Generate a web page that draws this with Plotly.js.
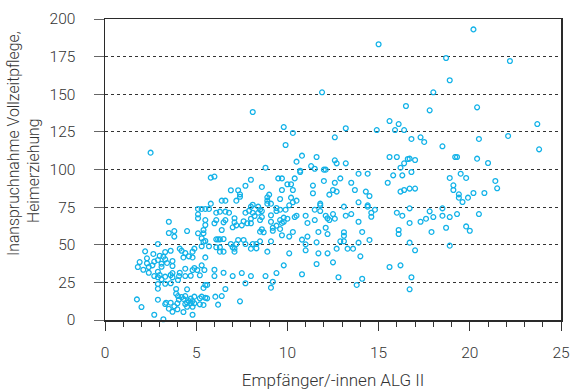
<!DOCTYPE html>
<html>
<head>
<meta charset="utf-8">
<script src="https://cdn.plot.ly/plotly-3.0.1.min.js"></script>
<style>html,body{margin:0;padding:0;background:#fff;}</style>
</head>
<body>
<div id="chart" style="width:571px;height:390px;"></div>
<script>
// Empfänger/-innen ALG II (x) vs. Inanspruchnahme Vollzeitpflege, Heimerziehung (y)
const xTitle = 'Empfänger/-innen ALG II';
const yTitleLines = ['Inanspruchnahme Vollzeitpflege,', 'Heimerziehung'];
const xTicks = [0, 5, 10, 15, 20, 25];
const yTicks = [0, 25, 50, 75, 100, 125, 150, 175, 200];

const xVals = [
8.1,2.5,
15.0,11.9,16.5,15.6,16.1,9.8,13.2,14.9,15.9,16.4,10.3,12.6,9.9,10.8,11.6,15.6,16.0,16.6,10.5,12.6,12.7,13.2,16.4,11.3,11.5,16.2,8.8,12.0,12.1,10.7,
20.2,18.7,22.2,18.9,18.0,17.8,20.4,23.7,16.8,17.3,17.5,20.5,22.1,18.5,23.8,19.2,19.3,16.7,17.0,20.4,21.0,
16.8,18.9,19.5,19.8,21.4,19.1,19.1,21.5,16.7,17.0,19.4,19.4,19.9,20.2,20.8,19.6,16.7,17.8,18.5,19.3,20.5,18.0,18.5,18.9,17.6,17.3,16.7,19.8,20.0,18.7,17.9,16.7,18.9,17.0,16.8,16.7,
10.7,13.9,14.4,15.8,16.3,12.9,9.5,9.7,10.4,12.0,12.6,13.5,15.5,10.0,10.2,8.6,11.4,9.7,10.3,12.5,12.7,13.7,14.3,16.2,16.4,11.4,12.3,9.0,14.5,8.9,8.9,8.9,10.2,9.6,10.5,9.1,13.9,10.3,10.1,11.8,11.8,13.1,14.4,14.4,8.4,8.5,8.6,8.4,9.4,9.4,9.6,9.9,9.8,9.1,11.5,11.8,14.8,13.5,13.2,14.6,14.6,16.0,16.3,10.5,10.4,11.0,12.1,12.2,12.3,12.5,12.6,9.6,9.8,10.0,9.1,8.6,8.5,11.5,11.1,13.9,12.1,12.2,9.7,9.4,9.2,9.2,8.6,8.5,8.7,9.6,10.3,11.7,14.1,16.1,16.1,9.7,10.1,11.1,13.1,13.1,13.1,12.9,13.9,14.5,8.5,9.1,10.8,11.0,11.0,11.6,8.3,8.9,12.7,13.3,13.6,11.7,12.2,10.1,14.0,12.5,11.6,9.8,15.6,16.2,9.4,8.8,10.8,12.8,14.1,9.2,9.1,13.8,
5.8,6.0,8.0,7.7,6.9,7.3,7.4,7.4,6.6,6.4,7.2,5.8,8.1,8.0,5.1,5.3,5.5,5.7,5.1,5.1,6.1,6.3,6.6,6.8,7.9,7.7,8.1,5.5,5.5,6.1,6.0,6.6,6.5,7.1,7.1,7.2,7.6,7.5,7.8,8.0,8.0,8.2,7.0,3.5,3.8,3.8,4.5,5.1,5.4,5.3,5.4,6.4,6.5,6.1,6.2,6.3,5.5,5.4,7.3,7.6,7.7,8.1,8.3,8.0,6.9,7.0,7.2,7.1,7.1,6.3,6.1,6.3,6.5,5.3,5.7,4.9,4.8,4.6,4.2,4.1,5.5,5.3,4.9,4.3,4.4,4.8,2.9,2.2,1.9,1.8,2.3,2.3,2.4,2.65,2.7,2.6,2.1,2.4,3.0,2.9,3.2,3.3,3.6,3.3,3.4,3.1,3.1,3.7,3.7,2.9,2.7,2.9,3.0,3.3,3.1,2.9,2.9,3.7,4.1,4.4,4.7,3.7,3.6,3.3,3.9,3.9,4.5,4.4,5.4,5.5,5.6,1.75,2.0,2.9,3.35,3.3,3.6,3.5,3.7,4.0,4.05,4.2,4.3,3.97,3.8,3.97,4.4,4.5,4.5,4.6,4.7,4.7,4.8,4.8,4.9,4.9,4.3,4.8,2.7,3.2,5.2,5.3,5.5,5.2,5.4,5.6,6.05,6.2,6.6,6.4,7.4,7.7,8.0,7.5,6.5,7.0,6.0,6.0,5.45,4.8,4.06,3.6,4.0,3.5,4.4,5.06,5.2
];
const yVals = [
138.2,111.2,
183.2,151.3,142.2,132.2,130.2,128.2,127.4,126.2,126.2,126.2,124.3,121.4,116.3,109.2,108.3,108.3,108.3,107.0,105.2,106.1,104.1,104.1,104.1,102.3,100.5,101.2,101.2,99.9,99.9,99.2,
193.1,174.1,172.1,159.3,151.3,139.3,141.3,130.2,120.3,121.4,118.3,120.3,122.3,115.4,113.4,108.3,108.3,107.2,106.3,107.2,104.3,
98.3,94.4,97.2,94.4,92.4,89.5,86.4,87.5,87.3,87.3,83.5,81.3,81.3,84.4,84.4,78.4,74.2,72.2,74.2,70.4,70.4,68.4,69.3,68.4,67.3,65.3,64.5,62.2,59.3,61.3,58.5,51.4,49.4,46.3,28.4,20.4,
98.3,97.2,97.2,96.1,96.1,94.1,94.1,94.1,94.1,92.4,91.2,91.2,91.2,90.2,90.2,88.4,89.3,86.4,86.4,86.4,85.3,86.4,85.3,85.3,86.4,84.2,83.3,83.3,82.4,81.5,79.3,77.3,81.3,80.4,79.3,77.3,78.2,78.2,76.2,77.3,76.2,75.3,76.2,75.3,75.3,73.3,72.4,71.3,74.4,72.4,73.3,73.3,68.0,69.6,73.3,72.4,73.3,70.4,69.3,71.3,68.6,71.3,69.3,69.3,68.4,69.3,69.3,67.6,66.4,70.4,67.3,66.4,65.3,67.3,65.3,68.4,66.4,66.4,64.5,65.3,61.3,57.1,64.5,62.7,61.3,59.3,60.3,58.7,58.3,60.5,58.5,58.5,58.5,59.8,57.1,56.3,55.4,55.4,58.3,56.0,52.3,52.3,51.4,53.2,52.3,52.3,53.4,50.3,46.3,51.6,47.6,45.4,47.4,47.4,47.4,44.3,44.3,44.3,42.3,38.3,37.2,36.3,35.2,36.3,31.2,29.2,30.4,28.4,27.4,25.4,21.5,23.3,
94.6,95.3,93.2,89.2,86.2,86.2,83.5,81.9,79.3,79.3,79.3,77.3,76.6,75.3,73.8,73.8,73.8,73.8,70.2,67.6,71.3,72.0,72.0,71.3,72.6,71.3,71.3,66.4,63.1,66.4,64.3,66.4,64.9,64.9,67.6,62.9,65.6,62.9,64.3,64.3,67.3,69.1,61.6,65.3,59.1,55.4,59.1,57.6,57.6,54.3,59.8,59.8,53.8,53.6,53.6,53.6,52.5,52.0,53.2,53.2,50.5,50.5,50.5,47.4,50.5,48.3,50.5,47.4,45.4,48.3,48.3,45.4,45.4,49.0,49.0,47.4,45.4,42.3,46.0,47.4,41.6,36.3,34.6,41.6,44.5,41.6,50.5,45.6,38.5,35.2,41.0,37.7,35.2,43.9,38.8,36.3,33.4,31.4,42.7,39.9,42.1,45.2,46.0,40.3,37.9,37.4,35.4,39.2,35.9,32.1,29.2,28.4,29.9,28.8,27.0,23.9,20.8,31.2,31.4,29.2,29.4,28.4,24.4,24.1,20.6,17.5,20.4,15.9,21.3,23.3,23.3,13.7,8.6,13.5,11.5,10.6,11.5,7.5,5.5,15.9,13.5,15.3,14.0,11.1,9.1,7.1,10.6,11.5,8.8,12.6,14.2,11.1,12.6,8.8,15.5,11.1,5.3,3.5,3.5,0.5,14.4,15.5,14.8,10.4,10.0,14.4,15.5,10.2,20.6,15.9,12.4,24.4,29.2,31.2,31.4,29.2,33.4,29.2,33.2,33.2,29.2,29.9,26.6,57.8,34.1,33.2,29.7
];

const FONT = 'Roboto, "Liberation Sans", Arial, sans-serif';

const trace = {
  type: 'scatter',
  mode: 'markers',
  x: xVals,
  y: yVals,
  cliponaxis: false,
  marker: {
    symbol: 'circle-open',
    size: 4.8,
    color: '#12B2E8',
    line: {width: 1.3, color: '#12B2E8'}
  },
  hoverinfo: 'x+y'
};

const tickFont = {family: FONT, size: 15.5, color: '#333333', weight: 300};
const yTitleFont = {family: FONT, size: 15.8, color: '#333333', weight: 300};

const layout = {
  width: 571,
  height: 390,
  margin: {l: 105, r: 10, t: 19, b: 70},
  paper_bgcolor: '#ffffff',
  plot_bgcolor: '#ffffff',
  showlegend: false,
  font: {family: FONT, size: 15, color: '#333333', weight: 300},
  xaxis: {
    range: [0, 25],
    tickvals: xTicks,
    ticktext: xTicks.map(String),
    ticks: 'outside',
    ticklen: 9,
    tickwidth: 1,
    tickcolor: '#333333',
    ticklabelstandoff: 9,
    minor: {dtick: 1, ticks: 'outside', ticklen: 5, tickwidth: 1, tickcolor: '#333333', showgrid: false},
    showgrid: false,
    zeroline: false,
    showline: true,
    linecolor: '#2a2a2a',
    linewidth: 1.5,
    mirror: true,
    tickfont: tickFont,
    title: {text: xTitle, standoff: 14, font: {family: FONT, size: 17, color: '#333333', weight: 300}}
  },
  yaxis: {
    range: [0, 200],
    tickvals: yTicks,
    ticktext: yTicks.map(String),
    ticks: 'outside',
    ticklen: 10,
    tickwidth: 1,
    tickcolor: '#666666',
    ticklabelstandoff: 15,
    showgrid: true,
    gridcolor: '#333333',
    griddash: 'dot',
    gridwidth: 1,
    zeroline: false,
    showline: true,
    linecolor: '#2a2a2a',
    linewidth: 1.5,
    mirror: true,
    tickfont: tickFont
  },
  annotations: [
    {text: yTitleLines[0], xref: 'paper', yref: 'paper', x: -0.2018, y: 0.588,
     xanchor: 'center', yanchor: 'middle', textangle: -90, showarrow: false, font: yTitleFont},
    {text: yTitleLines[1], xref: 'paper', yref: 'paper', x: -0.158, y: 0.498,
     xanchor: 'center', yanchor: 'middle', textangle: -90, showarrow: false, font: yTitleFont}
  ]
};

Plotly.newPlot('chart', [trace], layout, {displayModeBar: false, staticPlot: true});
</script>
</body>
</html>
